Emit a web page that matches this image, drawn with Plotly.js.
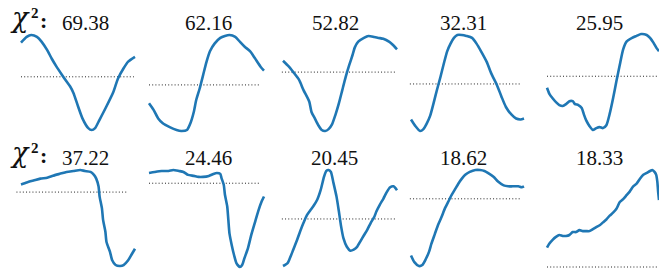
<!DOCTYPE html>
<html><head><meta charset="utf-8">
<script src="https://cdn.plot.ly/plotly-3.0.1.min.js"></script>
<style>html,body{margin:0;padding:0;background:#fff}#chart{width:659px;height:270px}</style>
</head><body><div id="chart"></div>
<script>
// ---- data (phase, normalised flux) ----
const phase1 = [0,.05,.09,.14,.18,.23,.27,.31,.36,.40,.43,.46,.50,.54,.59,.62,.65,.69,.75,.81,.85,.90,.94,1.0];
const flux1  = [.92,.98,1.0,.98,.93,.84,.75,.67,.58,.51,.46,.39,.25,.12,.02,0,.02,.11,.25,.40,.54,.65,.72,.77];
const phase2 = [0,.04,.08,.12,.18,.24,.28,.33,.36,.39,.41,.44,.47,.50,.53,.57,.62,.66,.70,.75,.79,.83,.88,.92,.97,1.0];
const flux2  = [.29,.22,.13,.08,.04,.01,0,.01,.08,.20,.32,.44,.58,.72,.83,.91,.97,.99,1.0,.98,.93,.88,.83,.76,.67,.63];
const phase3 = [0,.05,.09,.14,.18,.23,.25,.28,.31,.34,.37,.40,.43,.46,.49,.52,.55,.58,.61,.63,.66,.71,.75,.80,.84,.88,.93,.96,1.0];
const flux3  = [.74,.68,.62,.54,.43,.31,.20,.13,.06,.01,0,.02,.07,.17,.29,.43,.57,.69,.80,.88,.94,.98,1.0,.99,.98,.97,.94,.91,.86];
const phase4 = [0,.04,.08,.11,.14,.17,.20,.23,.26,.29,.32,.35,.38,.41,.45,.49,.54,.58,.62,.67,.71,.76,.80,.84,.89,.93,.97,1.0];
const flux4  = [.12,.05,0,.02,.08,.16,.29,.43,.56,.70,.83,.91,.97,1.0,1.0,.99,.97,.91,.83,.72,.60,.48,.36,.25,.17,.13,.12,.13];
const phase5 = [0,.02,.05,.08,.11,.14,.17,.20,.23,.25,.28,.31,.33,.35,.38,.41,.44,.47,.50,.53,.56,.59,.62,.65,.68,.71,.76,.80,.84,.89,.92,.95,.98,1.0];
const flux5  = [.44,.38,.33,.29,.26,.25,.27,.30,.30,.27,.26,.23,.16,.10,.04,0,.02,.03,.02,.05,.17,.33,.51,.68,.84,.92,.96,.98,1.0,.99,.96,.91,.85,.82];
const phase6 = [0,.05,.11,.17,.23,.28,.34,.40,.46,.52,.56,.61,.64,.66,.68,.69,.71,.72,.74,.75,.78,.80,.83,.87,.90,.94,.97,1.0];
const flux6  = [.85,.87,.89,.91,.92,.94,.96,.98,.99,1.0,.99,.98,.95,.91,.83,.72,.60,.48,.36,.25,.15,.06,.01,0,.01,.06,.12,.18];
const phase7 = [0,.05,.11,.17,.21,.26,.30,.34,.39,.43,.47,.52,.56,.59,.62,.63,.65,.66,.68,.69,.70,.72,.74,.76,.79,.81,.83,.86,.89,.92,.95,.98,1.0];
const flux7  = [.96,.97,.98,.98,.99,.98,.97,.94,.93,.92,.92,.93,.95,.96,.95,.91,.84,.74,.62,.48,.34,.22,.12,.04,0,.02,.09,.19,.33,.45,.57,.67,.72];
const phase8 = [0,.04,.06,.09,.12,.15,.18,.21,.24,.27,.30,.33,.36,.38,.40,.42,.44,.47,.49,.51,.53,.56,.59,.62,.65,.68,.71,.74,.77,.80,.82,.85,.88,.91,.94,.97,1.0];
const flux8  = [0,.03,.08,.17,.26,.36,.45,.53,.58,.63,.69,.79,.93,.99,1.0,.98,.88,.72,.57,.41,.29,.20,.16,.17,.20,.26,.32,.38,.45,.51,.57,.64,.70,.77,.82,.83,.79];
const phase9 = [0,.03,.07,.10,.13,.16,.18,.21,.24,.27,.30,.33,.36,.39,.42,.45,.48,.52,.57,.61,.65,.68,.73,.77,.82,.86,.90,.95,.98,1.0];
const flux9  = [.11,.04,0,.01,.07,.15,.23,.33,.43,.51,.60,.67,.74,.80,.86,.91,.95,.98,1.0,1.0,.99,.97,.93,.88,.84,.83,.83,.83,.82,.83];
const phase10 = [0,.02,.05,.08,.11,.14,.17,.20,.23,.26,.29,.32,.35,.38,.41,.44,.47,.50,.53,.56,.59,.62,.65,.68,.71,.74,.77,.80,.83,.86,.89,.92,.94,.96,.975,.985,.992,1.0];
const flux10  = [.20,.24,.28,.31,.33,.32,.32,.33,.36,.36,.38,.37,.37,.37,.39,.41,.43,.46,.49,.53,.56,.60,.67,.70,.74,.78,.83,.86,.91,.95,.97,.99,1.0,.98,.95,.88,.78,.69];

const chi2Labels = ['69.38','62.16','52.82','32.31','25.95','37.22','24.46','20.45','18.62','18.33'];
const baseLevel  = [.56,.48,.62,.49,.56,.77,.855,.49,.70,0];
const baseStart  = [0,0,-.01,-.01,0,-.04,0,-.01,-.01,0];
const baseEnd    = [.99,.965,.985,.98,1.0,.94,.965,.985,.97,1.0];

const phases = [phase1,phase2,phase3,phase4,phase5,phase6,phase7,phase8,phase9,phase10];
const fluxes = [flux1,flux2,flux3,flux4,flux5,flux6,flux7,flux8,flux9,flux10];

// ---- layout geometry (pixels): x of phase 0, x of phase 1, y of max, y of min ----
const W = 659, H = 270;
const cells = [
  [21,135,35,130],[149,264,35,131],[283,397,36,131],[411,524,35,131],[547,659,34,130],
  [21,135,170,266],[149,264,170,267],[283,397,170,266],[411,524,170,266],[547,659,170,267]
];
const titleX = [85,208,335,463,599,85,208,334,463,599];
const titleY = [23,23,23,23,23,158,158,158,158,158];

const data = [];
const layout = {
  width: W, height: H, margin:{l:0,r:0,t:0,b:0},
  paper_bgcolor:'#fff', plot_bgcolor:'rgba(0,0,0,0)',
  showlegend:false, hovermode:false, annotations:[]
};
function ann(text, px, py, size, bold, family){
  layout.annotations.push({text: bold ? '<b>'+text+'</b>' : text, xref:'paper', yref:'paper',
    x:px/W, y:1-py/H, xanchor:'center', yanchor:'middle', showarrow:false,
    font:{family: family || 'Liberation Serif, serif', size:size, color:'#111'}});
}
for (let i=0;i<10;i++){
  const n = i+1;
  const xa = 'x'+(n===1?'':n), ya = 'y'+(n===1?'':n);
  const [x0,x1,yt,yb] = cells[i];
  const ymin = Math.min(...fluxes[i], baseLevel[i]);
  const ymax = Math.max(...fluxes[i], baseLevel[i]);
  const padL = 6, padR = Math.min(3, W-x1), padV = 3;
  const kx = 1/(x1-x0), ky = (ymax-ymin)/(yb-yt);
  layout['xaxis'+(n===1?'':n)] = {
    domain:[(x0-padL)/W,(x1+padR)/W], range:[0-padL*kx, 1+padR*kx],
    visible:false, fixedrange:true, anchor:ya
  };
  layout['yaxis'+(n===1?'':n)] = {
    domain:[1-(yb+padV)/H, 1-(yt-padV)/H], range:[ymin-padV*ky, ymax+padV*ky],
    visible:false, fixedrange:true, anchor:xa
  };
  data.push({x:[baseStart[i],baseEnd[i]], y:[baseLevel[i],baseLevel[i]], xaxis:xa, yaxis:ya,
    mode:'lines', line:{color:'#222', width:1, dash:'1px,2.2px'}});
  data.push({x:phases[i], y:fluxes[i], xaxis:xa, yaxis:ya, mode:'lines',
    line:{color:'#1f77b4', width:2.6, shape:'spline', smoothing:0.6}});
  ann(chi2Labels[i], titleX[i], titleY[i], 21, false);
}
for (const dy of [0,135]){
  ann('<i>χ</i>', 20, 17+dy, 27, false, 'DejaVu Serif, serif');
  ann('2', 35, 13+dy, 15, true);
  ann(':', 43, 20.5+dy, 22, true);
}
Plotly.newPlot('chart', data, layout, {displayModeBar:false, staticPlot:true});
</script></body></html>
